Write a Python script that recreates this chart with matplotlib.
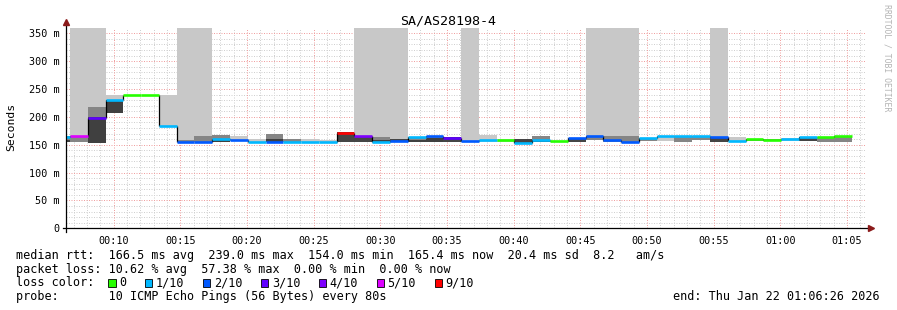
import matplotlib
matplotlib.use("Agg")
import matplotlib.pyplot as plt
import numpy as np
from matplotlib.lines import Line2D
from matplotlib.patches import Rectangle

W, H, DPI = 897, 310, 100

# ---------------- data ----------------
title = "SA/AS28198-4"
first_bin_min = 5.4          # 00:05:24, start of first 80 s bin
step_min = 80 / 60.0
view_start = 6 + 26 / 60.0   # 00:06:26
view_end = 66 + 26 / 60.0    # 01:06:26

median = [163, 165.7, 198.7, 231, 239, 239, 184, 154, 154, 161,
          158, 154, 154, 155, 155, 154, 171.8, 165.7, 155, 156.8,
          164, 165.7, 162.8, 157, 159, 158, 152.6, 159, 156.8, 162,
          165.7, 158.6, 154, 161.6, 165, 165, 165, 164, 156, 161,
          158, 161, 164, 163, 165.7]
loss = [1, 5, 3, 1, 0, 0, 1, 2, 2, 1,
        2, 1, 2, 1, 1, 1, 9, 4, 1, 2,
        1, 2, 3, 2, 1, 0, 1, 1, 0, 2,
        2, 2, 2, 1, 1, 1, 1, 2, 1, 0,
        0, 1, 1, 0, 0]
smoke_lo = [155, 154, 153, 207, 239, 239, 184, 154, 154, 154,
            158, 154, 154, 155, 155, 154, 154, 154, 155, 154,
            154, 154, 154, 154, 155, 155, 153, 154, 154, 154,
            158, 155, 154, 157, 156, 155, 158, 154, 156, 157,
            156, 157, 156, 155, 154]
smoke_hi = [166, 166, 218, 239, 239, 239, 239, 159, 165, 168,
            165, 161, 169, 161, 161, 158, 172, 166, 163, 160,
            164, 166, 163, 157, 167, 161, 160, 165, 157, 162,
            166, 165, 165, 162, 165, 165, 165, 164, 163, 161,
            161, 162, 164, 163, 166]
smoke_shade = ["M", "M", "M", "L", "L", "L", "L", "M", "M", "M",
               "L", "L", "M", "M", "L", "L", "D", "D", "M", "D",
               "M", "M", "D", "M", "L", "L", "D", "M", "L", "D",
               "M", "M", "M", "M", "L", "M", "M", "D", "L", "M",
               "M", "L", "D", "M", "M"]
core_lo = [154, np.nan, 153, 207, np.nan, np.nan, np.nan, np.nan, np.nan, 154,
           np.nan, np.nan, 154, np.nan, np.nan, np.nan, np.nan, np.nan, 155, np.nan,
           154, 154, np.nan, np.nan, np.nan, np.nan, np.nan, 154, np.nan, np.nan,
           np.nan, np.nan, np.nan, np.nan, np.nan, np.nan, np.nan, np.nan, np.nan, np.nan,
           np.nan, np.nan, np.nan, np.nan, np.nan]
core_hi = [158, np.nan, 199, 231, np.nan, np.nan, np.nan, np.nan, np.nan, 158,
           np.nan, np.nan, 161, np.nan, np.nan, np.nan, np.nan, np.nan, 158, np.nan,
           159, 162, np.nan, np.nan, np.nan, np.nan, np.nan, 159, np.nan, np.nan,
           np.nan, np.nan, np.nan, np.nan, np.nan, np.nan, np.nan, np.nan, np.nan, np.nan,
           np.nan, np.nan, np.nan, np.nan, np.nan]
tall_bins = [1, 2, 7, 8, 17, 18, 19, 23, 30, 31, 32, 37]

loss_levels = [0, 1, 2, 3, 4, 5, 9]
loss_labels = ["0", "1/10", "2/10", "3/10", "4/10", "5/10", "9/10"]
loss_colors = ["#26ff00", "#00b8ff", "#0059ff", "#5e00ff", "#7e00ff", "#dd00ff", "#ff0000"]

xtick_pos = [10, 15, 20, 25, 30, 35, 40, 45, 50, 55, 60, 65]
xtick_labels = ["00:10", "00:15", "00:20", "00:25", "00:30", "00:35",
                "00:40", "00:45", "00:50", "00:55", "01:00", "01:05"]
ytick_pos = [0, 50, 100, 150, 200, 250, 300, 350]
ytick_labels = ["0", "50 m", "100 m", "150 m", "200 m", "250 m", "300 m", "350 m"]
ymax = 360

legend_lines = [
    "median rtt:  166.5 ms avg  239.0 ms max  154.0 ms min  165.4 ms now  20.4 ms sd  8.2   am/s",
    "packet loss: 10.62 % avg  57.38 % max  0.00 % min  0.00 % now",
]
probe_line = "probe:       10 ICMP Echo Pings (56 Bytes) every 80s"
end_text = "end: Thu Jan 22 01:06:26 2026"

# ---------------- drawing ----------------
MONO = "DejaVu Sans Mono"
plt.rcParams["font.family"] = MONO
fig = plt.figure(figsize=(W / DPI, H / DPI), dpi=DPI)
fig.patch.set_facecolor("white")

def fx(x):
    return x / W

def fy(y):
    return 1 - y / H

ax_left, ax_right, ax_top, ax_bot = 66, 866, 27.7, 228.3
ax = fig.add_axes([fx(ax_left), fy(ax_bot), (ax_right - ax_left) / W, (ax_bot - ax_top) / H])
ax.set_xlim(view_start, view_end)
ax.set_ylim(0, ymax)
ax.set_facecolor("white")
for s in ax.spines.values():
    s.set_visible(False)

n = len(median)
starts = first_bin_min + np.arange(n) * step_min
ends = starts + step_min

# grid
grid_ls = (0, (1, 1.5))
for m in np.arange(7, 67, 1):
    if m % 5 == 0:
        continue
    ax.axvline(m, color="#d0d0d0", lw=0.72, ls=grid_ls, zorder=0)
for v in np.arange(10, ymax, 10):
    if v % 50 == 0:
        continue
    ax.axhline(v, color="#d0d0d0", lw=0.72, ls=grid_ls, zorder=0)
for m in xtick_pos:
    ax.axvline(m, color="#f0a0a0", lw=0.72, ls=grid_ls, zorder=0.5)
for v in ytick_pos[1:]:
    ax.axhline(v, color="#f0a0a0", lw=0.72, ls=grid_ls, zorder=0.5)

shade_col = {"L": "#c8c8c8", "M": "#858585", "D": "#454545"}

# tall gray columns
for k in tall_bins:
    ax.bar(starts[k], ymax - smoke_lo[k], bottom=smoke_lo[k], width=step_min,
           align="edge", color="#c8c8c8", lw=0, zorder=1)
# smoke
for k in range(n):
    h = smoke_hi[k] - smoke_lo[k]
    if h > 0:
        ax.bar(starts[k], h, bottom=smoke_lo[k], width=step_min, align="edge",
               color=shade_col[smoke_shade[k]], lw=0, zorder=2)
    if not np.isnan(core_lo[k]):
        ax.bar(starts[k], core_hi[k] - core_lo[k], bottom=core_lo[k], width=step_min,
               align="edge", color="#404040", lw=0, zorder=3)

# median: vertical connectors then colored segments
for k in range(n - 1):
    ax.vlines(ends[k], min(median[k], median[k + 1]), max(median[k], median[k + 1]),
              color="black", lw=0.9, zorder=4)
col_map = dict(zip(loss_levels, loss_colors))
ax.hlines(median, starts, ends, colors=[col_map[l] for l in loss], lw=1.9, zorder=5)

# ticks
ax.set_xticks(xtick_pos)
ax.set_xticklabels(xtick_labels)
ax.set_yticks(ytick_pos)
ax.set_yticklabels(ytick_labels)
ax.tick_params(axis="both", which="major", length=0, labelsize=7.3, colors="black", pad=5.5)
ax.tick_params(axis="y", pad=4.5)

# axis lines with arrows
fig.add_artist(Line2D([fx(63), fx(869)], [fy(228.3), fy(228.3)], color="black", lw=0.9))
fig.add_artist(Line2D([fx(66), fx(66)], [fy(231.5), fy(23)], color="black", lw=0.9))
fig.add_artist(Line2D([fx(871)], [fy(228.3)], marker=">", color="#8b1a1a", ms=4.5, ls="none"))
fig.add_artist(Line2D([fx(66)], [fy(22)], marker="^", color="#8b1a1a", ms=4.5, ls="none"))

# texts
fig.text(fx(448), fy(24), title, ha="center", va="baseline", fontsize=9.6, family=MONO)
fig.text(fx(11), fy(127), "Seconds", ha="center", va="center", rotation=90, fontsize=8.2, family=MONO)
fig.text(fx(887), fy(4), "RRDTOOL / TOBI OETIKER", ha="center", va="top", rotation=270,
         fontsize=5.9, color="#b4b4b4", family=MONO)

fs = 8.5
cw = 0.602 * fs * DPI / 72.0
base = [259, 272.7, 286.5, 300.3]
fig.text(fx(16), fy(base[0]), legend_lines[0], ha="left", va="baseline", fontsize=fs, family=MONO)
fig.text(fx(16), fy(base[1]), legend_lines[1], ha="left", va="baseline", fontsize=fs, family=MONO)
fig.text(fx(16), fy(base[2]), "loss color:", ha="left", va="baseline", fontsize=fs, family=MONO)
x = 108.3
for lab, c in zip(loss_labels, loss_colors):
    fig.add_artist(Rectangle((fx(x), fy(base[2])), 7.5 / W, 7.5 / H, facecolor=c,
                             edgecolor="black", lw=0.6))
    tx = x + 11
    fig.text(fx(tx), fy(base[2]), lab, ha="left", va="baseline", fontsize=fs, family=MONO)
    x = tx + len(lab) * cw + 18.5
fig.text(fx(16), fy(base[3]), probe_line, ha="left", va="baseline", fontsize=fs, family=MONO)
fig.text(fx(880), fy(base[3]), end_text, ha="right", va="baseline", fontsize=fs, family=MONO)

fig.savefig("out.png", dpi=DPI, facecolor="white")
